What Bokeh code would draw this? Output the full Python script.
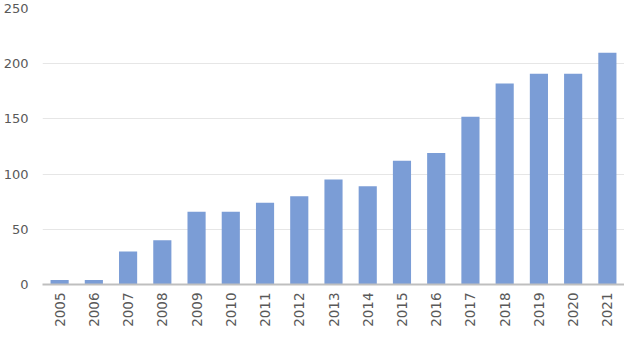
import math
from bokeh.plotting import figure
from bokeh.models import FixedTicker, ColumnDataSource
from bokeh.embed import file_html
from bokeh.resources import INLINE

years = ["2005", "2006", "2007", "2008", "2009", "2010", "2011", "2012", "2013",
         "2014", "2015", "2016", "2017", "2018", "2019", "2020", "2021"]
counts = [4, 4, 30, 40, 66, 66, 74, 80, 95, 89, 112, 119, 152, 182, 191, 191, 210]
y_ticks = [0, 50, 100, 150, 200, 250]

source = ColumnDataSource(data=dict(year=years, count=counts))

p = figure(x_range=years, y_range=(0, 250), width=624, height=329,
           output_backend="svg", toolbar_location=None,
           min_border_left=38, min_border_right=0, min_border_top=8, min_border_bottom=45)
p.x_range.range_padding = 0

p.vbar(x="year", top="count", width=0.53, source=source,
       fill_color="#7b9dd6", line_color=None)

p.outline_line_color = None
p.background_fill_color = "white"
p.border_fill_color = "white"

p.xgrid.grid_line_color = None
p.ygrid.grid_line_color = "#e6e6e6"
p.ygrid.grid_line_width = 1
p.yaxis.ticker = FixedTicker(ticks=y_ticks)

p.yaxis.axis_line_color = None
p.yaxis.major_tick_line_color = None
p.yaxis.minor_tick_line_color = None
p.yaxis.major_tick_out = 0
p.yaxis.major_label_standoff = 14
p.yaxis.major_label_text_font = "DejaVu Sans"
p.yaxis.major_label_text_font_size = "13px"
p.yaxis.major_label_text_color = "#595959"

p.xaxis.axis_line_color = "#bfbfbf"
p.xaxis.axis_line_width = 2
p.xaxis.major_tick_line_color = None
p.xaxis.minor_tick_line_color = None
p.xaxis.major_tick_out = 0
p.xaxis.major_label_standoff = 8
p.xaxis.major_label_orientation = math.pi / 2
p.xaxis.major_label_text_font = "DejaVu Sans"
p.xaxis.major_label_text_font_size = "13.5px"
p.xaxis.major_label_text_color = "#595959"

open("out.html", "w").write(file_html(p, INLINE))
